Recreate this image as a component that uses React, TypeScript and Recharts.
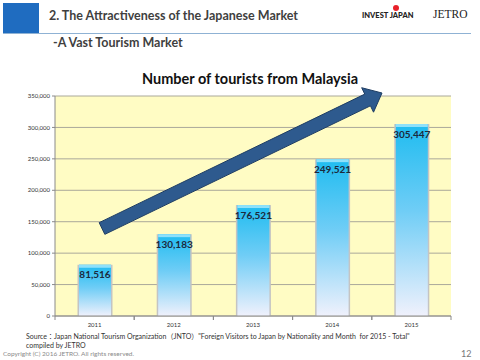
import { BarChart, Bar, XAxis, YAxis, CartesianGrid, LabelList } from 'recharts';

const years = ['2011', '2012', '2013', '2014', '2015'];
const visitors = [81516, 130183, 176521, 249521, 305447];
const yTicks = [0, 50000, 100000, 150000, 200000, 250000, 300000, 350000];

const data = years.map((year, i) => ({ year, visitors: visitors[i] }));

const fmt = (v: number) => v.toLocaleString('en-US');

function GlossyBar(props: any) {
  const { x, y, width, height } = props;
  if (!height || height <= 0) return null;
  return (
    <g>
      <rect x={x - 1.5} y={y} width={width + 3} height={height} fill="#c4c4c4" />
      <rect x={x} y={y} width={width} height={height} fill="url(#barGrad)" />
      <rect x={x} y={y} width={width} height={3} fill="#8fe1fa" />
    </g>
  );
}

// year label in the middle, tick marks on the category edges
function YearTick(props: any) {
  const { x, y, payload } = props;
  const half = payload.offset || 39.6;
  return (
    <g>
      <line x1={x - half} x2={x - half} y1={y} y2={y + 4} stroke="#8a8a8a" />
      <line x1={x + half} x2={x + half} y1={y} y2={y + 4} stroke="#8a8a8a" />
      <text x={x} y={y + 11} textAnchor="middle" fontSize={6} fill="#333" fontFamily="Lato, sans-serif">
        {payload.value}
      </text>
    </g>
  );
}

function ValueLabel(props: any) {
  const { x, y, width, value } = props;
  return (
    <text
      x={x + width / 2}
      y={y + 13.5}
      textAnchor="middle"
      fontSize={10}
      fontWeight="bold"
      fill="#1c2a3c"
      fontFamily="Lato, sans-serif"
    >
      {fmt(value)}
    </text>
  );
}

// big trend arrow drawn over the plot
function arrowPoints() {
  const tail = [102, 228.5];
  const tip = [382, 93];
  const dx = tip[0] - tail[0];
  const dy = tip[1] - tail[1];
  const len = Math.hypot(dx, dy);
  const ux = dx / len;
  const uy = dy / len;
  const px = -uy;
  const py = ux;
  const shaft = 6.5;
  const head = 13.6;
  const headLen = 16;
  const bx = tip[0] - ux * headLen;
  const by = tip[1] - uy * headLen;
  const pts = [
    [tail[0] + px * shaft, tail[1] + py * shaft],
    [bx + px * shaft, by + py * shaft],
    [bx + px * head, by + py * head],
    tip,
    [bx - px * head, by - py * head],
    [bx - px * shaft, by - py * shaft],
    [tail[0] - px * shaft, tail[1] - py * shaft],
  ];
  return pts.map((p) => p.join(',')).join(' ');
}

export default function App() {
  const font = 'Lato, "Noto Sans CJK JP", sans-serif';
  return (
    <div
      style={{
        position: 'absolute',
        left: 0,
        top: 0,
        width: 480,
        height: 360,
        background: '#fff',
        fontFamily: font,
        overflow: 'hidden',
      }}
    >
      <div style={{ position: 'absolute', left: 3, top: 3, width: 36, height: 30, background: '#1f6cc0' }} />
      <div style={{ position: 'absolute', left: 3, top: 33, width: 468, height: 1, background: '#8fb2d4' }} />
      <div
        style={{ position: 'absolute', left: 49, top: 8, fontSize: 12.5, fontWeight: 700, color: '#3f3f3f', whiteSpace: 'nowrap' }}
      >
        2. The Attractiveness of the Japanese Market
      </div>
      <div
        style={{ position: 'absolute', left: 53, top: 35, fontSize: 12.5, fontWeight: 700, color: '#3f3f3f', whiteSpace: 'nowrap' }}
      >
        -A Vast Tourism Market
      </div>
      <div style={{ position: 'absolute', left: 362, top: 11, fontSize: 7.5, fontWeight: 900, color: '#222', whiteSpace: 'nowrap' }}>
        INVEST JAPAN
      </div>
      <div style={{ position: 'absolute', left: 393, top: 5, width: 6, height: 6, borderRadius: 3, background: '#e8202a' }} />
      <div
        style={{ position: 'absolute', left: 433, top: 8, fontSize: 11.5, fontFamily: '"Liberation Serif", serif', color: '#222', whiteSpace: 'nowrap' }}
      >
        JETRO
      </div>

      <div style={{ position: 'absolute', left: 0, top: 0 }}>
        <BarChart width={480} height={360} data={data} margin={{ top: 96, right: 29, left: 0, bottom: 30 }}>
          <defs>
            <linearGradient id="barGrad" x1="0" y1="0" x2="0" y2="1">
              <stop offset="0%" stopColor="#1fbcf0" />
              <stop offset="45%" stopColor="#6fcdf6" />
              <stop offset="100%" stopColor="#f0f1fc" />
            </linearGradient>
          </defs>
          <CartesianGrid vertical={false} stroke="#aaa89a" fill="#fffcc4" />
          <XAxis
            dataKey="year"
            interval={0}
            tickSize={0}
            tickMargin={0}
            tickLine={false}
            axisLine={{ stroke: '#8a8a8a' }}
            tick={<YearTick />}
            height={14}
          />
          <YAxis
            width={55}
            domain={[0, 350000]}
            ticks={yTicks}
            interval={0}
            tickFormatter={fmt}
            tick={{ fontSize: 6, fill: '#333', fontFamily: 'Lato, sans-serif' }}
            tickSize={3}
            tickLine={{ stroke: '#8a8a8a' }}
            axisLine={{ stroke: '#8a8a8a' }}
          />
          <Bar dataKey="visitors" barSize={32} shape={<GlossyBar />} isAnimationActive={false}>
            <LabelList dataKey="visitors" content={<ValueLabel />} />
          </Bar>
        </BarChart>
      </div>

      <svg style={{ position: 'absolute', left: 0, top: 0 }} width={480} height={360}>
        <polygon points={arrowPoints()} fill="#2e5a8e" stroke="#1e3d63" strokeWidth={1} strokeLinejoin="miter" />
      </svg>

      <div
        style={{ position: 'absolute', left: 0, width: 500, top: 70, textAlign: 'center', fontSize: 14.5, fontWeight: 700, color: '#111' }}
      >
        Number of tourists from Malaysia
      </div>

      <div style={{ position: 'absolute', left: 26, top: 332, fontSize: 7, color: '#333', whiteSpace: 'nowrap', lineHeight: '9px' }}>
        Source：Japan National Tourism Organization（JNTO）"Foreign Visitors to Japan by Nationality and Month&nbsp; for 2015 - Total"
        <br />
        compiled by JETRO
      </div>
      <div style={{ position: 'absolute', left: 3, top: 350, fontSize: 6.5, color: '#8a8a8a', whiteSpace: 'nowrap' }}>
        Copyright (C) 2016 JETRO. All rights reserved.
      </div>
      <div style={{ position: 'absolute', left: 461, top: 348, fontSize: 9, color: '#777' }}>12</div>
    </div>
  );
}
